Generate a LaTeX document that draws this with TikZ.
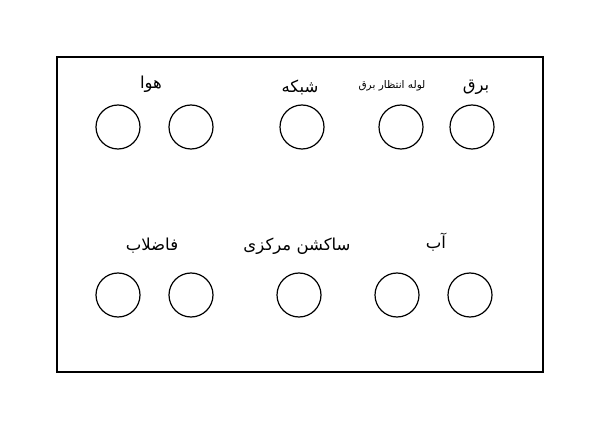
\documentclass[tikz,border=0pt]{standalone}
\usepackage{fontspec}
\newfontfamily\arabicfont[Script=Arabic]{DejaVu Sans}
\TeXXeTstate=1
\begin{document}
\begin{tikzpicture}[x=1pt,y=-1pt,
  port/.style={circle,draw,line width=1.2pt,minimum size=44pt,inner sep=0pt},
  lbl/.style={font=\arabicfont\fontsize{16.5}{18}\selectfont,inner sep=0pt},
  smalllbl/.style={font=\arabicfont\fontsize{10.5}{12}\selectfont,inner sep=0pt}]
\useasboundingbox (0,0) rectangle (600,422);
\node[draw,line width=1.8pt,minimum width=486pt,minimum height=315pt,inner sep=0pt] (frame) at (300,214.5) {};
\node[port] (c1) at (118,127) {};
\node[port] (c2) at (191,127) {};
\node[port] (c3) at (302,127) {};
\node[port] (c4) at (401,127) {};
\node[port] (c5) at (472,127) {};
\node[port] (d1) at (118,295) {};
\node[port] (d2) at (191,295) {};
\node[port] (d3) at (299,295) {};
\node[port] (d4) at (397,295) {};
\node[port] (d5) at (470,295) {};
\node[lbl] (t1) at (151,84) {\beginR هوا\endR};
\node[lbl] (t2) at (300,87) {\beginR شبکه\endR};
\node[smalllbl] (t3) at (392,86) {\beginR لوله انتظار برق\endR};
\node[lbl] (t4) at (476,87) {\beginR برق\endR};
\node[lbl] (b1) at (152,246) {\beginR فاضلاب\endR};
\node[lbl] (b2) at (297,246) {\beginR ساکشن مرکزی\endR};
\node[lbl] (b3) at (436,242) {\beginR آب\endR};
\end{tikzpicture}
\end{document}
